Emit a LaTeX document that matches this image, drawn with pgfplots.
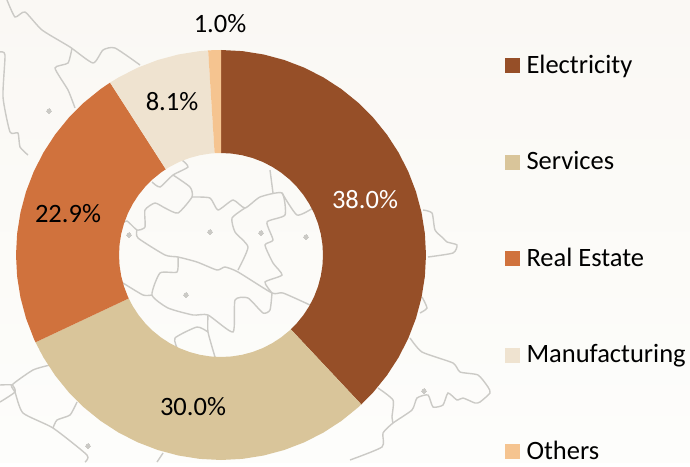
\documentclass[border=0pt]{standalone}
\usepackage{fontspec}
\setmainfont{Carlito}
\usepackage{pgfplots}
\pgfplotsset{compat=1.18}
\definecolor{cElec}{HTML}{964F28}
\definecolor{cServ}{HTML}{D9C59A}
\definecolor{cReal}{HTML}{D0723D}
\definecolor{cManu}{HTML}{EFE3D0}
\definecolor{cOther}{HTML}{F5C490}
\definecolor{cMap}{HTML}{CBCAC6}
\definecolor{bgTop}{HTML}{FAF8F4}
\definecolor{bgBot}{HTML}{FDFDFB}
\begin{document}
\begin{tikzpicture}
% background map, in picture coordinates
\begin{axis}[at={(0,0)},anchor=south west,width=690pt,height=462pt,scale only axis,
  xmin=0,xmax=690,ymin=0,ymax=462,y dir=reverse,axis lines=none,ticks=none,clip=true,
  axis background/.style={top color=bgTop,bottom color=bgBot}]
\pgfplotsset{mapl/.style={color=cMap,line width=1.4pt,smooth,tension=0.35,mark=none}}
\addplot[mapl] coordinates {(7,0)(15,17)(25,12)(42,30)(70,47)(93,63)(103,50)(115,48)(140,65)};
\addplot[mapl] coordinates {(72,48)(68,63)(55,68)(68,90)(75,108)};
\addplot[mapl] coordinates {(0,52)(5,55)(3,97)(10,132)(18,133)(20,147)(28,155)};
\addplot[mapl] coordinates {(182,160)(188,167)(173,175)(160,187)(152,182)};
\addplot[mapl] coordinates {(173,175)(190,187)(192,197)(178,213)(165,208)(155,203)(145,210)(145,227)(137,230)(127,221)(120,225)};
\addplot[mapl] coordinates {(192,197)(210,198)(218,210)(233,200)(245,208)(260,197)(282,193)(285,215)(267,222)(273,240)(265,245)(273,263)(282,275)(265,282)(272,293)};
\addplot[mapl] coordinates {(245,208)(232,218)(235,232)(248,247)(238,270)};
\addplot[mapl] coordinates {(137,230)(138,238)(165,255)(178,257)(197,262)(217,270)(225,267)(238,272)(272,293)(283,293)(310,305)};
\addplot[mapl] coordinates {(178,257)(177,272)(160,273)(152,295)(168,308)(193,315)(208,315)(233,332)(235,300)(248,298)(263,313)(270,310)(272,293)};
\addplot[mapl] coordinates {(123,283)(143,295)(152,295)};
\addplot[mapl] coordinates {(208,315)(208,332)(215,357)};
\addplot[mapl] coordinates {(208,332)(197,327)(175,338)(178,350)};
\addplot[mapl] coordinates {(270,170)(273,193)};
\addplot[mapl] coordinates {(282,193)(297,215)(313,208)};
\addplot[mapl] coordinates {(423,210)(432,213)(435,230)(443,238)(447,242)(457,245)(453,253)(428,257)};
\addplot[mapl] coordinates {(422,297)(427,308)(420,313)};
\addplot[mapl] coordinates {(410,338)(422,352)(453,363)(460,372)(478,375)(488,387)(490,393)(480,402)(475,403)(463,398)(457,400)(448,393)(443,405)(433,407)(428,395)(417,398)(412,410)(393,423)(383,433)(382,447)(350,460)};
\addplot[mapl] coordinates {(378,388)(393,400)(392,417)(393,423)};
\addplot[mapl] coordinates {(40,350)(45,355)};
\addplot[mapl] coordinates {(50,365)(33,370)(12,385)(15,392)(23,413)(53,428)(87,455)(85,462)};
\addplot[mapl] coordinates {(0,385)(12,385)(15,392)(0,402)};
\addplot[mapl] coordinates {(53,428)(57,420)(70,415)(77,402)};
\addplot[mapl] coordinates {(163,453)(157,462)};
\addplot[only marks,color=cMap,mark=*,mark size=2.4pt,mark options={draw=cMap,fill=cMap,line width=0pt}] coordinates {(210,232)(261,233)(306,237)(129,235)(186,295)(49,111)(424,391)(88,446)};
\end{axis}
% donut, centred on the origin
\begin{axis}[at={(0,0)},anchor=south west,width=690pt,height=462pt,scale only axis,
  xmin=-221,xmax=469,ymin=-207,ymax=255,hide axis,clip=false,
  legend image code/.code={\fill[#1,draw=none] (0pt,0pt) rectangle (15pt,15pt);},
  legend cell align=left,
  legend style={at={(axis cs:284,199)},anchor=north west,draw=none,fill=none,inner sep=0pt,outer sep=0pt,
    font=\fontsize{26.5}{26.5}\selectfont,row sep=72.5pt,
    nodes={inner sep=0pt,text height=17pt,text depth=7pt,anchor=base west},
    /tikz/every odd column/.append style={column sep=6.5pt}}]
\addplot[fill=cElec,draw=none,mark=none,data cs=polar] coordinates {
(90,205)(84,205)(78,205)(72,205)(66,205)(60,205)(54,205)(48,205)(42,205)(36,205)(30,205)(24,205)(18,205)(12,205)(6,205)(0,205)(-6,205)(-12,205)(-18,205)(-24,205)(-30,205)(-36,205)(-42,205)(-46.8,205)
(-46.8,102)(-42,102)(-36,102)(-30,102)(-24,102)(-18,102)(-12,102)(-6,102)(0,102)(6,102)(12,102)(18,102)(24,102)(30,102)(36,102)(42,102)(48,102)(54,102)(60,102)(66,102)(72,102)(78,102)(84,102)(90,102)} -- cycle;
\addplot[fill=cServ,draw=none,mark=none,data cs=polar] coordinates {
(-46.8,205)(-48,205)(-54,205)(-60,205)(-66,205)(-72,205)(-78,205)(-84,205)(-90,205)(-96,205)(-102,205)(-108,205)(-114,205)(-120,205)(-126,205)(-132,205)(-138,205)(-144,205)(-150,205)(-154.8,205)
(-154.8,102)(-150,102)(-144,102)(-138,102)(-132,102)(-126,102)(-120,102)(-114,102)(-108,102)(-102,102)(-96,102)(-90,102)(-84,102)(-78,102)(-72,102)(-66,102)(-60,102)(-54,102)(-48,102)(-46.8,102)} -- cycle;
\addplot[fill=cReal,draw=none,mark=none,data cs=polar] coordinates {
(-154.8,205)(-156,205)(-162,205)(-168,205)(-174,205)(-180,205)(-186,205)(-192,205)(-198,205)(-204,205)(-210,205)(-216,205)(-222,205)(-228,205)(-234,205)(-237.24,205)
(-237.24,102)(-234,102)(-228,102)(-222,102)(-216,102)(-210,102)(-204,102)(-198,102)(-192,102)(-186,102)(-180,102)(-174,102)(-168,102)(-162,102)(-156,102)(-154.8,102)} -- cycle;
\addplot[fill=cManu,draw=none,mark=none,data cs=polar] coordinates {
(-237.24,205)(-240,205)(-246,205)(-252,205)(-258,205)(-264,205)(-266.4,205)
(-266.4,102)(-264,102)(-258,102)(-252,102)(-246,102)(-240,102)(-237.24,102)} -- cycle;
\addplot[fill=cOther,draw=none,mark=none,data cs=polar] coordinates {
(-266.4,205)(-268,205)(-270,205)(-270,102)(-268,102)(-266.4,102)} -- cycle;
\legend{Electricity,Services,Real Estate,Manufacturing,Others}
\begin{scope}[every node/.style={font=\fontsize{26.5}{26.5}\selectfont,inner sep=0pt}]
\node[text=black] at (axis cs:-1,231) {1.0\%};
\node[text=black] at (axis cs:-49,153) {8.1\%};
\node[text=white] at (axis cs:144,55) {38.0\%};
\node[text=black] at (axis cs:-153,41) {22.9\%};
\node[text=black] at (axis cs:-28,-152) {30.0\%};
\end{scope}
\end{axis}
\end{tikzpicture}
\end{document}
